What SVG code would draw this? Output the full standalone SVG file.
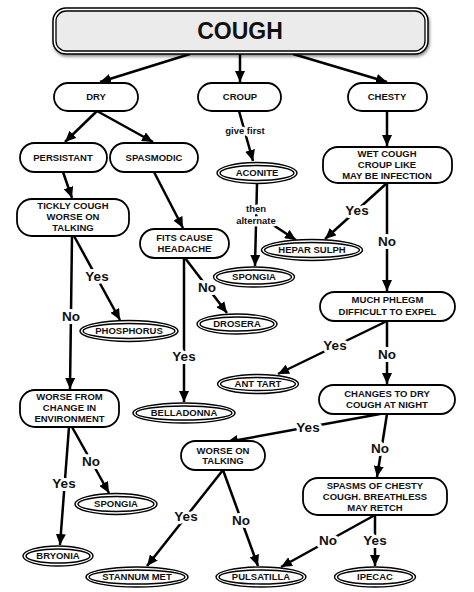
<svg xmlns="http://www.w3.org/2000/svg" width="474" height="592" viewBox="0 0 474 592">
<style>
.n{fill:#fff;stroke:#000;stroke-width:1.8}
.t{font-family:"Liberation Sans",Arial,sans-serif;font-weight:bold;font-size:9.5px;text-anchor:middle;fill:#111}
.e{fill:#fff;stroke:#000;stroke-width:1.4}
.ei{fill:none;stroke:#000;stroke-width:1.4}
.c{stroke:#000;stroke-width:2.5;fill:none;marker-end:url(#ah)}
.l{font-family:"Liberation Sans",Arial,sans-serif;font-weight:bold;font-size:13.5px;text-anchor:middle;fill:#111;stroke:#fff;stroke-width:6;paint-order:stroke;stroke-linejoin:round}
.s{font-family:"Liberation Sans",Arial,sans-serif;font-weight:bold;font-size:9.5px;text-anchor:middle;fill:#111;stroke:#fff;stroke-width:5;paint-order:stroke;stroke-linejoin:round}
</style>
<defs>
<marker id="ah" markerUnits="userSpaceOnUse" markerWidth="11" markerHeight="10" refX="11" refY="5" orient="auto">
<path d="M0,0 L11,5 L0,10 z" fill="#000"/>
</marker>
<filter id="sh" x="-5%" y="-20%" width="110%" height="150%">
<feDropShadow dx="1" dy="2" stdDeviation="1.5" flood-opacity="0.45"/>
</filter>
</defs>
<rect width="474" height="592" fill="#fff"/>
<g id="connectors">
<line class="c" x1="190" y1="54" x2="100" y2="82"/>
<line class="c" x1="240" y1="54" x2="240" y2="82"/>
<line class="c" x1="293" y1="54" x2="387" y2="82"/>
<line class="c" x1="97" y1="111" x2="65" y2="142"/>
<line class="c" x1="97" y1="111" x2="153" y2="142"/>
<line class="c" x1="239" y1="111" x2="253" y2="161"/>
<line class="c" x1="387" y1="111" x2="387" y2="146"/>
<line class="c" x1="63" y1="172" x2="72" y2="198"/>
<line class="c" x1="154" y1="172" x2="183" y2="228"/>
<line class="c" x1="257" y1="184" x2="255" y2="266"/>
<line class="c" x1="270" y1="223" x2="296" y2="240"/>
<line class="c" x1="387" y1="183" x2="325" y2="239"/>
<line class="c" x1="387" y1="183" x2="387" y2="291"/>
<line class="c" x1="74" y1="236" x2="120" y2="320"/>
<line class="c" x1="72" y1="236" x2="70" y2="389"/>
<line class="c" x1="185" y1="258" x2="227" y2="313"/>
<line class="c" x1="184" y1="258" x2="184" y2="402"/>
<line class="c" x1="387" y1="321" x2="278" y2="374"/>
<line class="c" x1="387" y1="321" x2="387" y2="384"/>
<line class="c" x1="380" y1="414" x2="227" y2="442"/>
<line class="c" x1="387" y1="414" x2="377" y2="477"/>
<line class="c" x1="69" y1="427" x2="60" y2="545"/>
<line class="c" x1="72" y1="427" x2="109" y2="493"/>
<line class="c" x1="223" y1="470" x2="147" y2="566"/>
<line class="c" x1="223" y1="470" x2="258" y2="566"/>
<line class="c" x1="375" y1="515" x2="281" y2="567"/>
<line class="c" x1="375" y1="515" x2="375" y2="566"/>
<text class="s" x="245" y="134">give first</text>
<text class="s" x="256" y="212">then</text>
<text class="s" x="256" y="224">alternate</text>
<text class="l" x="357" y="215">Yes</text>
<text class="l" x="387" y="246">No</text>
<text class="l" x="97" y="281">Yes</text>
<text class="l" x="71" y="321">No</text>
<text class="l" x="207" y="292">No</text>
<text class="l" x="184" y="361">Yes</text>
<text class="l" x="335" y="350">Yes</text>
<text class="l" x="387" y="359">No</text>
<text class="l" x="308" y="432">Yes</text>
<text class="l" x="380" y="453">No</text>
<text class="l" x="64" y="488">Yes</text>
<text class="l" x="91" y="466">No</text>
<text class="l" x="186" y="521">Yes</text>
<text class="l" x="241" y="525">No</text>
<text class="l" x="328" y="545">No</text>
<text class="l" x="375" y="545">Yes</text>
</g>
<g id="cough">
<rect x="53" y="8" width="375" height="46" rx="13" fill="#fff" stroke="#000" stroke-width="1.5" filter="url(#sh)"/>
<rect x="56" y="11" width="369" height="40" rx="10" fill="#ebebeb" stroke="#000" stroke-width="1.3"/>
<text x="240" y="39" font-family="Liberation Sans,Arial,sans-serif" font-weight="bold" font-size="23" text-anchor="middle" fill="#111">COUGH</text>
</g>
<g id="dry"><rect class="n" x="54" y="83" width="84" height="28" rx="14"/><text class="t" x="96" y="100.4">DRY</text></g>
<g id="croup"><rect class="n" x="198" y="83" width="83" height="28" rx="14"/><text class="t" x="240" y="100.4">CROUP</text></g>
<g id="chesty"><rect class="n" x="348" y="83" width="79" height="28" rx="14"/><text class="t" x="387" y="100.4">CHESTY</text></g>
<g id="persistant"><rect class="n" x="20" y="143" width="87" height="29" rx="14.5"/><text class="t" x="63" y="160.9">PERSISTANT</text></g>
<g id="spasmodic"><rect class="n" x="110" y="143" width="88" height="29" rx="14.5"/><text class="t" x="154" y="160.9">SPASMODIC</text></g>
<g id="wetcough"><rect class="n" x="323" y="147" width="129" height="36" rx="15"/><text class="t" x="387" y="157.4">WET COUGH</text><text class="t" x="387" y="168.4">CROUP LIKE</text><text class="t" x="387" y="179.4">MAY BE INFECTION</text></g>
<g id="tickly"><rect class="n" x="17" y="199" width="112" height="37" rx="15"/><text class="t" x="73" y="209.4">TICKLY COUGH</text><text class="t" x="73" y="220.4">WORSE ON</text><text class="t" x="73" y="231.4">TALKING</text></g>
<g id="fits"><rect class="n" x="140" y="229" width="89" height="29" rx="14.5"/><text class="t" x="184.5" y="241.4">FITS CAUSE</text><text class="t" x="184.5" y="252.4">HEADACHE</text></g>
<g id="phlegm"><rect class="n" x="320" y="292" width="135" height="29" rx="14.5"/><text class="t" x="387.5" y="303.4">MUCH PHLEGM</text><text class="t" x="387.5" y="315.4">DIFFICULT TO EXPEL</text></g>
<g id="changes"><rect class="n" x="319" y="385" width="136" height="29" rx="14.5"/><text class="t" x="387" y="397.4">CHANGES TO DRY</text><text class="t" x="387" y="408.4">COUGH AT NIGHT</text></g>
<g id="worsefrom"><rect class="n" x="20" y="390" width="99" height="37" rx="15"/><text class="t" x="69.5" y="400.4">WORSE FROM</text><text class="t" x="69.5" y="411.4">CHANGE IN</text><text class="t" x="69.5" y="422.4">ENVIRONMENT</text></g>
<g id="worseon"><rect class="n" x="181" y="441" width="84" height="29" rx="14.5"/><text class="t" x="223" y="453.9">WORSE ON</text><text class="t" x="223" y="464.4">TALKING</text></g>
<g id="spasms"><rect class="n" x="303" y="478" width="144" height="37" rx="15"/><text class="t" x="375" y="489.4">SPASMS OF CHESTY</text><text class="t" x="375" y="500.4">COUGH. BREATHLESS</text><text class="t" x="375" y="511.4">MAY RETCH</text></g>
<g id="aconite"><ellipse class="e" cx="257" cy="173" rx="40" ry="10.5"/><ellipse class="ei" cx="257" cy="173" rx="37" ry="7.5"/><text class="t" x="257" y="176.4">ACONITE</text></g>
<g id="spongia1"><ellipse class="e" cx="254" cy="277" rx="40.5" ry="10"/><ellipse class="ei" cx="254" cy="277" rx="37.5" ry="7"/><text class="t" x="254" y="280.4">SPONGIA</text></g>
<g id="hepar"><ellipse class="e" cx="312" cy="250" rx="50.5" ry="10.5"/><ellipse class="ei" cx="312" cy="250" rx="47.5" ry="7.5"/><text class="t" x="312" y="253.4">HEPAR SULPH</text></g>
<g id="phosphorus"><ellipse class="e" cx="129" cy="331" rx="49" ry="10.5"/><ellipse class="ei" cx="129" cy="331" rx="46" ry="7.5"/><text class="t" x="129" y="334.4">PHOSPHORUS</text></g>
<g id="drosera"><ellipse class="e" cx="237" cy="324" rx="40" ry="10"/><ellipse class="ei" cx="237" cy="324" rx="37" ry="7"/><text class="t" x="237" y="327.4">DROSERA</text></g>
<g id="belladonna"><ellipse class="e" cx="184" cy="413" rx="51" ry="10"/><ellipse class="ei" cx="184" cy="413" rx="48" ry="7"/><text class="t" x="184" y="416.4">BELLADONNA</text></g>
<g id="anttart"><ellipse class="e" cx="258" cy="384" rx="40.5" ry="9.5"/><ellipse class="ei" cx="258" cy="384" rx="37.5" ry="6.5"/><text class="t" x="258" y="387.4">ANT TART</text></g>
<g id="bryonia"><ellipse class="e" cx="58" cy="556" rx="35" ry="10"/><ellipse class="ei" cx="58" cy="556" rx="32" ry="7"/><text class="t" x="58" y="559.4">BRYONIA</text></g>
<g id="spongia2"><ellipse class="e" cx="116" cy="504" rx="41" ry="10.5"/><ellipse class="ei" cx="116" cy="504" rx="38" ry="7.5"/><text class="t" x="116" y="507.4">SPONGIA</text></g>
<g id="stannum"><ellipse class="e" cx="137" cy="577" rx="51" ry="10"/><ellipse class="ei" cx="137" cy="577" rx="48" ry="7"/><text class="t" x="137" y="580.4">STANNUM MET</text></g>
<g id="pulsatilla"><ellipse class="e" cx="261" cy="577" rx="45" ry="10"/><ellipse class="ei" cx="261" cy="577" rx="42" ry="7"/><text class="t" x="261" y="580.4">PULSATILLA</text></g>
<g id="ipecac"><ellipse class="e" cx="375" cy="577" rx="40.5" ry="10"/><ellipse class="ei" cx="375" cy="577" rx="37.5" ry="7"/><text class="t" x="375" y="580.4">IPECAC</text></g>
</svg>
